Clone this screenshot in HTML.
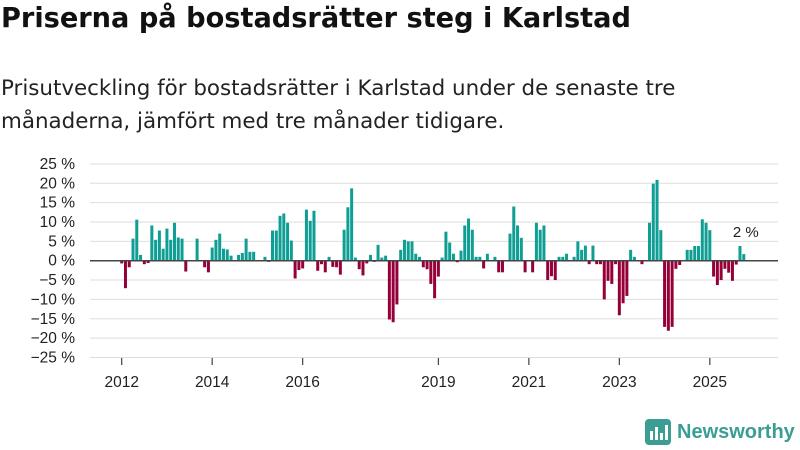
<!DOCTYPE html>
<html><head><meta charset="utf-8">
<style>
body{margin:0;background:#fff;width:800px;height:450px;overflow:hidden;font-family:"Liberation Sans","DejaVu Sans",sans-serif;color:#111}
#title{position:absolute;left:1px;top:3px;font-family:"DejaVu Sans",sans-serif;font-size:27.2px;font-weight:bold}
#sub{position:absolute;left:1px;top:72px;font-family:"DejaVu Sans",sans-serif;font-size:21.4px;line-height:33px;color:#222}
svg{position:absolute;left:0;top:0}
</style></head><body>
<div id="title">Priserna på bostadsrätter steg i Karlstad</div>
<div id="sub">Prisutveckling för bostadsrätter i Karlstad under de senaste tre<br>månaderna, jämfört med tre månader tidigare.</div>
<svg id="chart" width="800" height="450"></svg>
<script>
const startYear = 2012;
const values = [
-0.7,-7.1,-1.7,5.7,10.6,1.5,-0.9,-0.6,9.1,5.4,7.8,3.1,
8.3,5.4,9.8,6.0,5.7,-2.8,0,0,5.7,0,-1.7,-3.0,
3.4,5.4,7.0,3.1,2.9,1.3,0,1.5,2.0,5.7,2.3,2.3,
0,0,1.0,-0.3,7.8,7.8,11.6,12.2,9.8,5.2,-4.6,-2.4,
-2.0,13.2,10.3,12.9,-2.6,-0.9,-3.0,1.0,-1.6,-1.7,-3.6,8.0,
13.8,18.7,0.8,-2.2,-3.8,-0.7,1.5,-0.3,4.1,0.8,1.3,-15.2,
-15.9,-11.3,2.8,5.4,5.0,5.0,1.8,1.0,-1.7,-2.2,-6.0,-9.7,
-4.1,0.8,7.5,4.7,1.8,-0.4,2.6,9.1,10.9,8.0,1.0,1.0,
-2.0,1.8,0,1.0,-3.0,-3.0,0,7.0,14.0,9.1,5.9,-3.0,
0,-3.0,9.8,8.0,9.1,-5.0,-4.0,-5.0,1.0,1.0,1.8,0,
1.0,5.0,2.8,3.9,-0.9,3.9,-0.9,-0.9,-10.0,-5.2,-6.0,-0.9,
-14.1,-11.0,-9.1,2.8,1.0,0,-0.9,0,9.8,19.9,20.9,7.9,
-17.1,-18.1,-17.1,-2.1,-1.1,0,2.8,2.8,3.8,3.8,10.7,9.8,
7.9,-4.1,-6.3,-5.0,-2.1,-3.1,-5.2,-1.0,3.8,1.7];
const yTicks = [25,20,15,10,5,0,-5,-10,-15,-20,-25];
const xTickYears = [2012,2014,2016,2019,2021,2023,2025];
const lastLabel = "2 %";

const NS="http://www.w3.org/2000/svg";
const svg=document.getElementById('chart');
function y(v){return 260.7 - v*3.87;}
function x(i){return 121.7 + i*3.77;}
function mk(t,a){const e=document.createElementNS(NS,t);for(const k in a)e.setAttribute(k,a[k]);svg.appendChild(e);return e;}
yTicks.forEach(t=>{
  const g=mk('line',{x1:90,x2:778,y1:y(t),y2:y(t),stroke:'#dedede','stroke-width':1});
  
  
  const l=mk('text',{x:75,y:y(t)+5,'text-anchor':'end','font-size':15.5,fill:'#222'});
  l.textContent=(t<0?'−'+(-t):t)+' %';
  
  
});
values.forEach((v,i)=>{
  if(v===0)return;
  const r=mk('rect',{x:x(i)-1.5,width:3,y:Math.min(y(v),y(0)),height:Math.abs(y(v)-y(0)),fill:v>0?'#0e9e94':'#960039'});
  
  
});
const z=mk('line',{x1:90,x2:778,y1:y(0),y2:y(0),stroke:'#444','stroke-width':1.5});


xTickYears.forEach(yr=>{
  const xi=x((yr-startYear)*12);
  const t=mk('line',{x1:xi,x2:xi,y1:358,y2:365,stroke:'#444','stroke-width':1.2});
  
  
  const l=mk('text',{x:xi,y:387,'text-anchor':'middle','font-size':15.5,fill:'#222'});
  l.textContent=yr;
  
  
});
const li=values.length-1;
const lab=mk('text',{x:x(li)+2,y:y(values[li])-17,'text-anchor':'middle','font-size':15,fill:'#222'});
lab.textContent=lastLabel;


</script>
<div style="position:absolute;left:645px;top:419px;display:flex;align-items:center">
<svg width="26" height="26" style="position:static"><rect x="0" y="0" width="26" height="26" rx="4" fill="#3a9e94"/><rect x="5" y="12" width="3" height="9" fill="#fff"/><rect x="10" y="8" width="3" height="13" fill="#fff"/><rect x="15" y="14" width="3" height="7" fill="#fff"/><rect x="20" y="6" width="3" height="15" fill="#fff"/></svg>
<span style="margin-left:6px;font-size:20px;font-weight:bold;color:#3a9e94">Newsworthy</span></div>
</body></html>
